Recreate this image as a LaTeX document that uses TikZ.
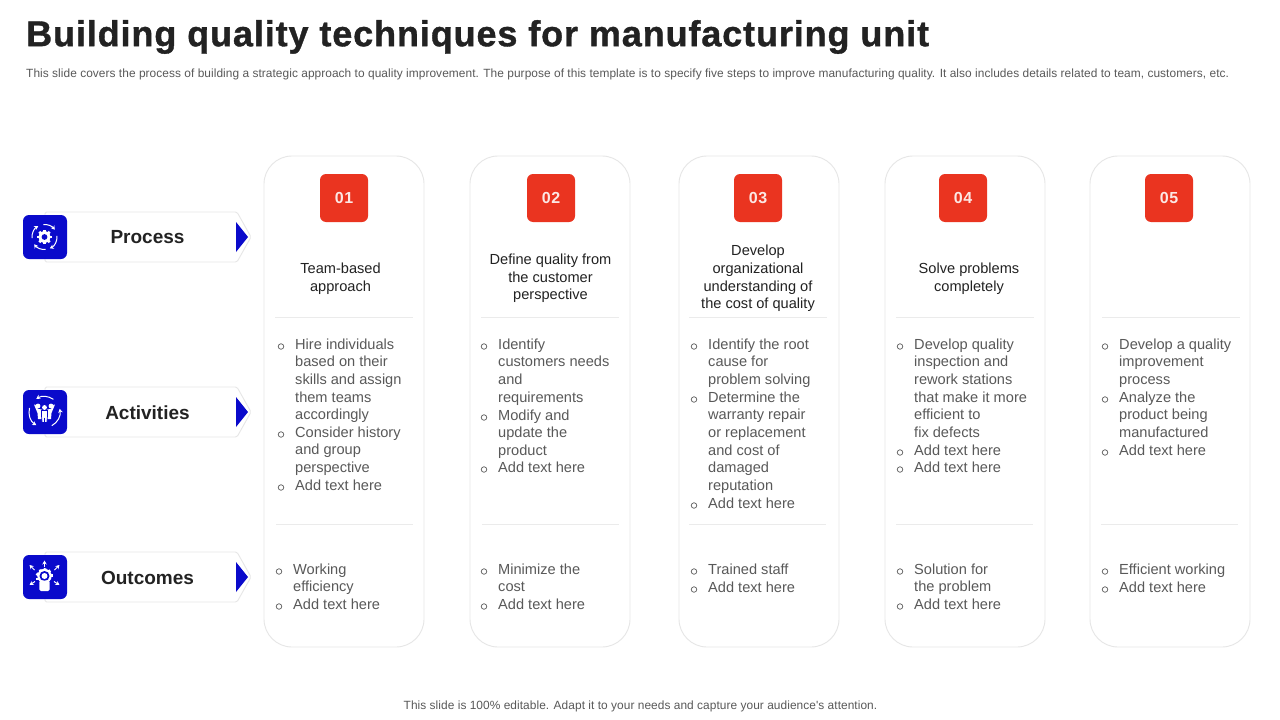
\documentclass[tikz,border=0pt]{standalone}
\usepackage{fontspec}
\setmainfont{Liberation Sans}
\newfontfamily\titlefont[LetterSpace=2.45,FakeBold=1]{Liberation Sans Bold}
\newfontfamily\subfont[LetterSpace=0.5]{Liberation Sans}
\newfontfamily\badgefont[LetterSpace=4]{Liberation Sans Bold}
\usetikzlibrary{arrows.meta}
\definecolor{cardline}{HTML}{E6E6E6}
\definecolor{sepline}{HTML}{EBEBEB}
\definecolor{badge}{HTML}{EA3420}
\definecolor{iconblue}{HTML}{0A0ACB}
\definecolor{bodygray}{HTML}{595959}
\definecolor{headgray}{HTML}{222222}
\tikzset{
 x=1pt,y=1pt,
 card/.style={draw=cardline,line width=0.9pt,rounded corners=28pt,fill=white},
 sepl/.style={draw=sepline,line width=0.8pt},
 badgebox/.style={fill=badge,rounded corners=6pt},
 badgetext/.style={text=white!88!badge,font=\badgefont\fontsize{16}{16}\selectfont,inner sep=0pt},
 headtext/.style={text=headgray,font=\fontsize{14.6}{17.6}\selectfont,align=center,inner sep=0pt},
 bodytext/.style={text=bodygray,font=\fontsize{14.6}{17.6}\selectfont,align=left,inner sep=0pt,anchor=north west},
 bulletdot/.style={draw=bodygray,line width=0.7pt,circle,minimum size=5.5pt,inner sep=0pt},
 labelbar/.style={draw=cardline,line width=0.9pt,fill=white,line join=round,rounded corners=1.5pt},
 labeltext/.style={text=headgray,font=\bfseries\fontsize{19}{19}\selectfont,inner sep=0pt},
 iconbox/.style={fill=iconblue,rounded corners=6pt},
 tri/.style={fill=iconblue},
 arr/.style={draw=white,line width=1.0pt,-{Stealth[length=4pt,width=4.5pt]}},
}
% \blk{name}{bullet x}{text x}{y of first line centre}{text}
\newcommand{\blk}[5]{\node[bodytext] (#1) at (#3,{-(#4)+5.5}) {#5};}
\newcommand{\bul}[3]{\node[bulletdot] (#1) at (#2,{-(#3)-2.5}) {};}
\begin{document}
\begin{tikzpicture}
\useasboundingbox (0,0) rectangle (1280,-720);
\fill[white] (0,0) rectangle (1280,-720);
\node[anchor=west,inner sep=0pt,text=headgray,font=\titlefont\fontsize{36}{36}\selectfont] (title) at (26,-37) {Building quality techniques for manufacturing unit};
\node[anchor=west,inner sep=0pt,text=bodygray,font=\subfont\fontsize{11.9}{14}\selectfont] (sub) at (26,-74.5) {This slide covers the process of building a strategic approach to quality improvement. The purpose of this template is to specify five steps to improve manufacturing quality. It also includes details related to team, customers, etc.};
\node[anchor=center,inner sep=0pt,text=bodygray,font=\subfont\fontsize{11.9}{14}\selectfont] (foot) at (640.5,-706) {This slide is 100\% editable. Adapt it to your needs and capture your audience's attention.};
% left labels
\foreach \n/\yy/\t in {proc/237/Process,act/412/Activities,out/577/Outcomes}{
 \draw[labelbar] (45,{-\yy+25}) -- (237,{-\yy+25}) -- (251,-\yy) -- (237,{-\yy-25}) -- (45,{-\yy-25}) -- cycle;
 \fill[tri] (236,{-\yy+15}) -- (248,-\yy) -- (236,{-\yy-15}) -- cycle;
 \fill[iconbox] (23,{-\yy+22}) rectangle (67,{-\yy-22});
 \node[labeltext] (lab\n) at (147.5,{-\yy-0.5}) {\t};
}
% process icon
\begin{scope}[shift={(44.5,-237)}]
 \foreach \a in {0,45,...,315}{\fill[white,rotate=\a] (5,-1.4) rectangle (7.4,1.4);}
 \fill[white] (0,0) circle (5.9);
 \fill[iconblue] (0,0) circle (2.9);
 \draw[arr] (95:12.5) arc (95:35:12.5);
 \draw[arr] (5:12.5) arc (5:-65:12.5);
 \draw[arr] (-85:12.5) arc (-85:-145:12.5);
 \draw[arr] (185:12.5) arc (185:120:12.5);
\end{scope}
% activities icon
\begin{scope}[shift={(44.5,-412)}]
 \foreach \dx/\dy in {-6.5/6,6.5/6,0/4.5}{\fill[white] (\dx,\dy) circle (2.4);}
 \fill[white] (-10.5,7.5) -- (-9.2,7.5) -- (-6.5,3) -- (-3,2.6) -- (-2,-7) -- (-6.5,-7) -- (-7,-1) -- cycle;
 \fill[white] (10.5,7.5) -- (9.2,7.5) -- (6.5,3) -- (3,2.6) -- (2,-7) -- (6.5,-7) -- (7,-1) -- cycle;
 \draw[iconblue,line width=0.7pt,fill=white] (-3,1.5) -- (3,1.5) -- (3,-4) -- (2.4,-10.5) -- (-2.4,-10.5) -- (-3,-4) -- cycle;
 \draw[iconblue,line width=0.5pt] (0,-5.5) -- (0,-10.5);
 \draw[arr] (55:15.5) arc (55:122:15.5);
 \draw[arr] (165:15.5) arc (165:238:15.5);
 \draw[arr] (-62:15.5) arc (-62:12:15.5);
\end{scope}
% outcomes icon
\begin{scope}[shift={(44.5,-577)}]
 \foreach \a in {0,36,...,180}{\fill[white,rotate=\a] (6,0.5) rectangle (8.5,3.3);}
 \fill[white] (0,1) circle (7.2);
 \fill[iconblue] (0,1) circle (5);
 \fill[white] (0,1) circle (3);
 \fill[iconblue] (-6.8,-5.5) rectangle (6.8,-15);
 \fill[white,rounded corners=1.5pt] (-5.2,-14) rectangle (5.2,-3.5);
 \draw[arr] (0,10) -- (0,16.5);
 \draw[arr] (-10,7) -- (-15,12);
 \draw[arr] (10,7) -- (15,12);
 \draw[arr] (-9.5,-4.5) -- (-15,-8);
 \draw[arr] (9.5,-4.5) -- (15,-8);
\end{scope}
% cards
\foreach \i/\x/\bx/\sa/\sb in {1/264/320/275/276,2/470/527/481/482,3/679/734/689/689,4/885/939/896/896,5/1090/1145/1102/1101}{
 \draw[card] (\x,-156) rectangle ++(160,-491);
 \fill[badgebox] (\bx,-174) rectangle ++(48,-48);
 \node[badgetext] (b\i) at ({\bx+24},-198) {0\i};
 \draw[sepl] (\sa,-317.5) -- ++(138,0);
 \draw[sepl] (\sb,-524.5) -- ++(137,0);
}
% headings
\node[headtext] (h1) at (340.5,-278.5) {Team-based\\approach};
\node[headtext] (h2) at (550.5,-278.5) {Define quality from\\the customer\\perspective};
\node[headtext] (h3) at (758,-278.5) {Develop\\organizational\\understanding of\\the cost of quality};
\node[headtext] (h4) at (969,-278.5) {Solve problems\\completely};
% column 1
\bul{a1}{281}{344}\blk{ta1}{281}{295}{344}{Hire individuals\\based on their\\skills and assign\\them teams\\accordingly}
\bul{a2}{281}{432}\blk{ta2}{281}{295}{432}{Consider history\\and group\\perspective}
\bul{a3}{281}{485}\blk{ta3}{281}{295}{485}{Add text here}
\bul{o1}{279}{569}\blk{to1}{279}{293}{569}{Working\\efficiency}
\bul{o2}{279}{604}\blk{to2}{279}{293}{604}{Add text here}
% column 2
\bul{b1}{484}{344}\blk{tb1}{484}{498}{344}{Identify\\customers needs\\and\\requirements}
\bul{b2}{484}{415}\blk{tb2}{484}{498}{415}{Modify and\\update the\\product}
\bul{b3}{484}{467}\blk{tb3}{484}{498}{467}{Add text here}
\bul{p1}{484}{569}\blk{tp1}{484}{498}{569}{Minimize the\\cost}
\bul{p2}{484}{604}\blk{tp2}{484}{498}{604}{Add text here}
% column 3
\bul{c1}{694}{344}\blk{tc1}{694}{708}{344}{Identify the root\\cause for\\problem solving}
\bul{c2}{694}{397}\blk{tc2}{694}{708}{397}{Determine the\\warranty repair\\or replacement\\and cost of\\damaged\\reputation}
\bul{c3}{694}{503}\blk{tc3}{694}{708}{503}{Add text here}
\bul{q1}{694}{569}\blk{tq1}{694}{708}{569}{Trained staff}
\bul{q2}{694}{587}\blk{tq2}{694}{708}{587}{Add text here}
% column 4
\bul{d1}{900}{344}\blk{td1}{900}{914}{344}{Develop quality\\inspection and\\rework stations\\that make it more\\efficient to\\fix defects}
\bul{d2}{900}{450}\blk{td2}{900}{914}{450}{Add text here}
\bul{d3}{900}{467}\blk{td3}{900}{914}{467}{Add text here}
\bul{r1}{900}{569}\blk{tr1}{900}{914}{569}{Solution for\\the problem}
\bul{r2}{900}{604}\blk{tr2}{900}{914}{604}{Add text here}
% column 5
\bul{e1}{1105}{344}\blk{te1}{1105}{1119}{344}{Develop a quality\\improvement\\process}
\bul{e2}{1105}{397}\blk{te2}{1105}{1119}{397}{Analyze the\\product being\\manufactured}
\bul{e3}{1105}{450}\blk{te3}{1105}{1119}{450}{Add text here}
\bul{s1}{1105}{569}\blk{ts1}{1105}{1119}{569}{Efficient working}
\bul{s2}{1105}{587}\blk{ts2}{1105}{1119}{587}{Add text here}
\end{tikzpicture}
\end{document}
